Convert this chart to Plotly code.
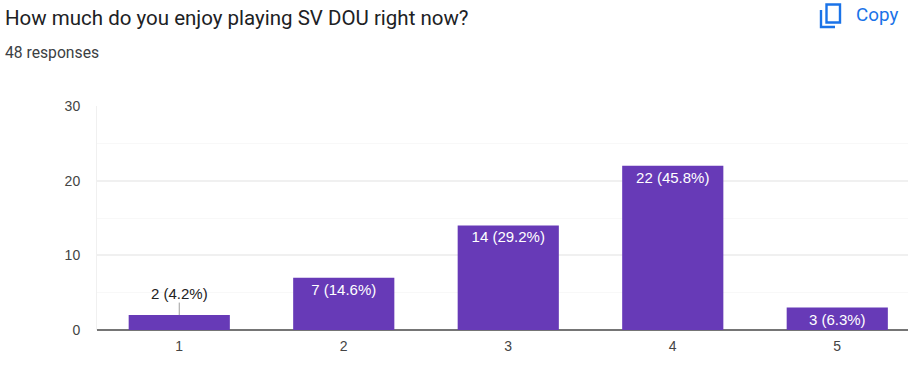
import plotly.graph_objects as go

categories = ["1", "2", "3", "4", "5"]
counts = [2, 7, 14, 22, 3]
percents = ["4.2%", "14.6%", "29.2%", "45.8%", "6.3%"]
title = "How much do you enjoy playing SV DOU right now?"
subtitle = "48 responses"
W, H = 908, 388
labels = [f"{c} ({p})" for c, p in zip(counts, percents)]
PURPLE = "#673ab7"
BLUE = "#1a73e8"
FONT = "Liberation Sans, Arial, sans-serif"

px = lambda v: v / W
py = lambda v: 1 - v / H

fig = go.Figure(go.Bar(
    x=list(range(5)), y=counts, width=0.615,
    marker=dict(color=PURPLE, line=dict(width=0)),
    text=["" if c < 3 else l for c, l in zip(counts, labels)],
    textposition="inside", insidetextanchor="end", textangle=0, constraintext="none",
    textfont=dict(family=FONT, size=15, color="white"),
    cliponaxis=False, hoverinfo="skip",
))
fig.add_annotation(x=0, y=counts[0], text=labels[0], showarrow=False, xref="x", yref="y",
                   yshift=22, font=dict(family=FONT, size=15, color="#222222"))
fig.add_annotation(x=0, y=counts[0], ax=0, ay=-14, text="", showarrow=True, arrowhead=0,
                   arrowwidth=1, arrowcolor="#9e9e9e", standoff=0, xref="x", yref="y")

fig.add_annotation(x=px(4), y=py(18), text=title, showarrow=False, xref="paper", yref="paper",
                   xanchor="left", yanchor="middle", borderpad=0,
                   font=dict(family="Roboto, sans-serif", size=20.5, color="#202124"))
fig.add_annotation(x=px(4), y=py(53), text=subtitle, showarrow=False, xref="paper", yref="paper",
                   xanchor="left", yanchor="middle", borderpad=0,
                   font=dict(family="Roboto, sans-serif", size=15.7, color="#3c4043"))
fig.add_annotation(x=px(855), y=py(15), text="Copy", showarrow=False, xref="paper", yref="paper",
                   xanchor="left", yanchor="middle", borderpad=0,
                   font=dict(family="Roboto, sans-serif", size=18.8, color=BLUE))
# copy icon
fig.add_shape(type="rect", xref="paper", yref="paper", x0=px(826.5), x1=px(840), y0=py(4.5), y1=py(22.5),
              line=dict(color=BLUE, width=2.4))
fig.add_shape(type="path", xref="paper", yref="paper",
              path=f"M {px(821)} {py(10)} L {px(821)} {py(27)} L {px(835)} {py(27)}",
              line=dict(color=BLUE, width=2.4))

fig.update_layout(
    width=W, height=H, autosize=False, margin=dict(l=0, r=0, t=0, b=0),
    paper_bgcolor="white", plot_bgcolor="white", showlegend=False,
    xaxis=dict(domain=[px(97), 1], range=[-0.5, 4.43], tickmode="array", tickvals=list(range(5)),
               ticktext=categories, showgrid=False, zeroline=False, showline=False, ticks="",
               automargin=False, ticklabelstandoff=6,
               tickfont=dict(family=FONT, size=14, color="#444444")),
    yaxis=dict(domain=[py(330), py(106)], range=[0, 30], tickmode="array", tickvals=[0, 10, 20, 30],
               showgrid=True, gridcolor="#f0f0f0", gridwidth=2, zeroline=True, zerolinecolor="#757575",
               zerolinewidth=2, showline=True, linecolor="#f0f0f0", linewidth=1, ticks="",
               automargin=False, ticklabelstandoff=13,
               minor=dict(tickmode="array", tickvals=[5, 15, 25], showgrid=True, gridcolor="#f8f8f8", gridwidth=1),
               tickfont=dict(family=FONT, size=14, color="#444444")),
)
fig.write_html("out.html", config=dict(displayModeBar=False), post_script="document.body.style.margin='0';")
